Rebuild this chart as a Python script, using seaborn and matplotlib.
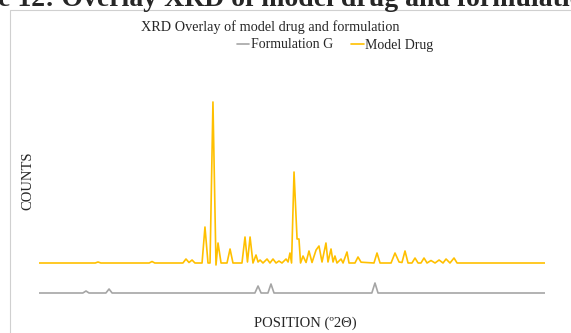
import matplotlib
matplotlib.use("Agg")
import matplotlib.pyplot as plt
import matplotlib.patches as mpatches
import seaborn as sns
import pandas as pd

# ---- data ----
drug_pos = [5.0, 10.0, 10.25, 10.5, 14.8, 15.05, 15.3, 17.8, 18.07, 18.34, 18.61, 18.87,
            19.5, 19.76, 20.03, 20.21, 20.47, 20.74, 20.92, 21.19, 21.72, 21.99, 22.25,
            23.05, 23.32, 23.54, 23.77, 24.03, 24.3, 24.48, 24.66, 24.92, 25.28, 25.54,
            25.81, 26.08, 26.34, 26.61, 26.97, 27.15, 27.32, 27.46, 27.68, 27.95, 28.12,
            28.26, 28.48, 28.75, 29.01, 29.28, 29.64, 29.9, 30.17, 30.52, 30.7, 30.97,
            31.15, 31.32, 31.5, 31.86, 32.04, 32.39, 32.57, 33.1, 33.37, 33.64, 34.79,
            35.06, 35.33, 36.31, 36.66, 37.02, 37.28, 37.55, 37.82, 38.17, 38.44, 38.71,
            38.97, 39.24, 39.51, 39.86, 40.22, 40.58, 40.93, 41.2, 41.55, 41.91, 42.18, 50.0]
drug_counts = [300, 300, 310, 300, 300, 315, 300, 300, 340, 305, 330, 300,
               300, 660, 300, 300, 1910, 280, 500, 300, 300, 440, 300,
               300, 560, 310, 560, 300, 380, 310, 330, 300, 340, 300,
               340, 300, 320, 300, 340, 310, 400, 300, 1210, 540, 540,
               300, 370, 305, 420, 305, 430, 470, 310, 500, 310, 440,
               310, 370, 300, 340, 300, 410, 300, 300, 360, 308, 300,
               400, 300, 300, 400, 310, 305, 420, 300, 300, 350, 300,
               300, 350, 300, 325, 300, 330, 300, 340, 300, 350, 300, 300]

form_pos = [5.0, 8.9, 9.18, 9.45, 10.95, 11.23, 11.5, 24.2, 24.48, 24.75,
            25.36, 25.63, 25.9, 34.6, 34.88, 35.15, 50.0]
form_counts = [0, 0, 20, 0, 0, 40, 0, 0, 70, 0, 0, 90, 0, 0, 100, 0, 0]

series_names = ["Formulation G", "Model Drug"]
series_colors = ["#A5A5A5", "#FFC000"]

title_text = "XRD Overlay of model drug and formulation"
caption_text = "e 12: Overlay XRD of model drug and formulation"
x_label = "POSITION (\u00ba2\u0398)"
y_label = "COUNTS"

df = pd.concat([
    pd.DataFrame({"pos": form_pos, "counts": form_counts, "series": series_names[0]}),
    pd.DataFrame({"pos": drug_pos, "counts": drug_counts, "series": series_names[1]}),
], ignore_index=True)

sns.set_theme(style="white")
plt.rcParams["font.family"] = ["Liberation Serif", "DejaVu Serif"]

W, H = 571, 333
fig = plt.figure(figsize=(W / 100, H / 100), dpi=100)

# outer chart frame
fig.patches.append(mpatches.Rectangle((10 / W, -0.1), 1.2, 1.1 - 10 / H,
                                      transform=fig.transFigure, fill=False,
                                      edgecolor="#D0D0D0", linewidth=0.8))

ax = fig.add_axes([39 / W, 1 - 300 / H, (545 - 39) / W, 205 / H])
sns.lineplot(data=df, x="pos", y="counts", hue="series", hue_order=series_names,
             palette=series_colors, estimator=None, sort=False, linewidth=1.2,
             ax=ax, legend=False)
ax.set_xlim(5, 50)
ax.set_ylim(-70, 1980)
ax.set_axis_off()

fig.text(-2 / W, 1 - 6.5 / H, caption_text, fontsize=20, fontweight="bold",
         ha="left", va="baseline")
fig.text(270 / W, 1 - 27 / H, title_text, fontsize=10.3, ha="center", va="center")

handles = [plt.Line2D([], [], color=c, lw=1.2) for c in series_colors]
fig.legend(handles, series_names, loc="center", bbox_to_anchor=(335 / W, 1 - 45 / H),
           ncol=2, frameon=False, fontsize=10, handlelength=0.9, handletextpad=0.1,
           columnspacing=1.3)

fig.text(28 / W, 1 - 181 / H, y_label, rotation=90, fontsize=10.5, ha="center", va="center")
fig.text(305 / W, 1 - 323 / H, x_label, fontsize=10.5, ha="center", va="center")

fig.savefig("out.png", dpi=100)
